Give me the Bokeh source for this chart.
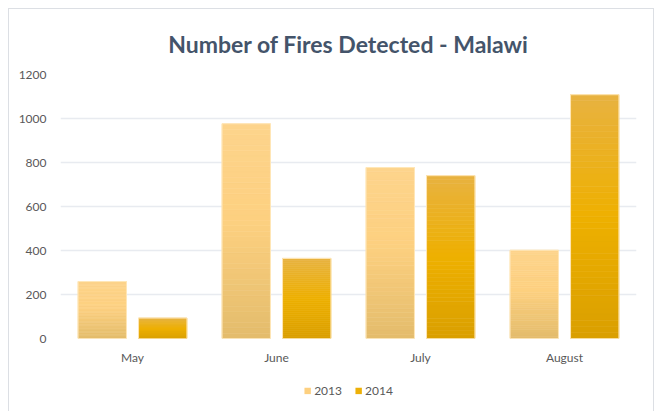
from bokeh.plotting import figure
from bokeh.layouts import column
from bokeh.models import FactorRange, Legend, LegendItem, ColumnDataSource, Range1d
from bokeh.transform import dodge
from bokeh.embed import file_html
from bokeh.resources import INLINE

months = ["May", "June", "July", "August"]
fires_2013 = [259, 976, 777, 401]
fires_2014 = [93, 364, 740, 1108]
years = ["2013", "2014"]
y_ticks = [0, 200, 400, 600, 800, 1000, 1200]

# gradient stops: (fraction from bottom, colour)
grad_2013 = [(0.0, "#E3BC6C"), (0.55, "#FDD080"), (1.0, "#FDD48C")]
grad_2014 = [(0.0, "#D99F00"), (0.5, "#EEB000"), (1.0, "#E8B241")]


def hex2rgb(h):
    h = h.lstrip("#")
    return tuple(int(h[i:i + 2], 16) for i in (0, 2, 4))


def interp(stops, t):
    for (t0, c0), (t1, c1) in zip(stops[:-1], stops[1:]):
        if t0 <= t <= t1:
            a = (t - t0) / (t1 - t0) if t1 > t0 else 0
            r0, r1 = hex2rgb(c0), hex2rgb(c1)
            return "#%02x%02x%02x" % tuple(int(round(r0[k] + (r1[k] - r0[k]) * a)) for k in range(3))
    return stops[-1][1]


p = figure(
    x_range=FactorRange(*months, range_padding=0),
    y_range=(0, 1200),
    width=644, height=360,
    output_backend="svg", toolbar_location=None,
    min_border_left=51, min_border_right=17, min_border_top=65, min_border_bottom=31,
    title="Number of Fires Detected - Malawi",
)
p.outline_line_color = None
p.background_fill_color = "white"
p.border_fill_color = "white"

p.title.align = "center"
p.title.text_font = "Lato"
p.title.text_font_style = "bold"
p.title.text_font_size = "23px"
p.title.text_color = "#44546A"
p.title.standoff = 34
p.title.offset = -16

N = 40
legend_colors = {}
for name, vals, stops, off in [("2013", fires_2013, grad_2013, -0.21), ("2014", fires_2014, grad_2014, 0.21)]:
    for i in range(N):
        f0, f1 = i / N, (i + 1) / N
        src = ColumnDataSource(dict(
            x=months,
            bottom=[v * f0 for v in vals],
            top=[v * f1 for v in vals],
        ))
        col = interp(stops, (f0 + f1) / 2)
        p.vbar(x=dodge("x", off, range=p.x_range), bottom="bottom", top="top", width=0.336,
               source=src, fill_color=col, line_color=col, line_width=0.6)
    legend_colors[name] = interp(stops, 0.55)
    osrc = ColumnDataSource(dict(x=months, top=vals))
    p.vbar(x=dodge("x", off, range=p.x_range), top="top", bottom=0, width=0.336, source=osrc,
           fill_alpha=0, line_color="#FFE7B8", line_width=1)

p.xgrid.grid_line_color = None
p.ygrid.grid_line_color = "#E8EBF0"
p.ygrid.grid_line_width = 1.3
p.ygrid.level = "underlay"

p.yaxis.ticker = y_ticks
for ax in (p.xaxis, p.yaxis):
    ax.axis_line_color = None
    ax.major_tick_line_color = None
    ax.minor_tick_line_color = None
    ax.major_tick_out = 0
    ax.major_tick_in = 0
    ax.major_label_text_font = "Lato"
    ax.major_label_text_font_size = "12px"
    ax.major_label_text_color = "#595959"
p.xaxis.major_label_standoff = 11
p.yaxis.major_label_standoff = 14

# legend strip below the chart
lg = figure(width=644, height=42, output_backend="svg", toolbar_location=None,
            x_range=Range1d(0, 1), y_range=Range1d(0, 1),
            x_axis_location=None, y_axis_location=None,
            min_border_left=0, min_border_right=12, min_border_top=0, min_border_bottom=0)
lg.grid.visible = False
lg.outline_line_color = None
lg.background_fill_color = "white"
lg.border_fill_color = "white"
items = []
for y in years:
    # zero-size key swatch (only used for the legend glyph)
    r = lg.vbar(x=[0.5], top=[0], bottom=[0], width=0, fill_color=legend_colors[y], line_color=None)
    items.append(LegendItem(label=y, renderers=[r]))
legend = Legend(items=items, orientation="horizontal", location="center")
legend.label_text_font = "Lato"
legend.label_text_font_size = "12px"
legend.label_text_color = "#595959"
legend.glyph_width = 8
legend.glyph_height = 8
legend.label_standoff = 3
legend.spacing = 12
legend.padding = 0
legend.margin = 0
legend.border_line_color = None
legend.background_fill_alpha = 0
lg.add_layout(legend)

layout = column(p, lg, spacing=0)
layout.styles = {"margin-left": "8px", "margin-top": "8px",
                 "border-top": "1px solid #DCDFE4", "border-left": "1px solid #DCDFE4",
                 "border-right": "1px solid #DCDFE4"}

open("out.html", "w").write(file_html(layout, INLINE))
